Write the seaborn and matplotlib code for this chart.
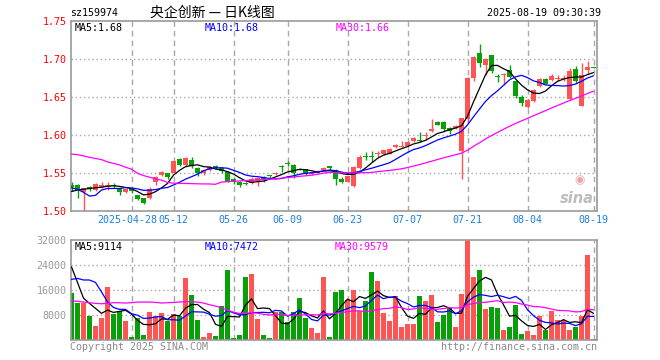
import numpy as np
import pandas as pd
import matplotlib
matplotlib.use("Agg")
import matplotlib.pyplot as plt
import matplotlib.transforms as mtrans
import seaborn as sns

# ---------------- data ----------------
holidays = ["2025-05-01", "2025-05-02", "2025-05-05", "2025-06-02"]
dates = pd.bdate_range("2025-04-14", "2025-08-19")
dates = dates[~dates.isin(pd.to_datetime(holidays))]

opens = [1.534, 1.535, 1.525, 1.532, 1.528, 1.532, 1.532, 1.535, 1.529, 1.525,
         1.529, 1.521, 1.517, 1.517, 1.538, 1.548, 1.550, 1.551, 1.569, 1.561,
         1.568, 1.557, 1.550, 1.554, 1.560, 1.557, 1.552, 1.542, 1.539, 1.537,
         1.537, 1.540, 1.545, 1.547, 1.549, 1.559, 1.563, 1.561, 1.556, 1.555,
         1.549, 1.551, 1.555, 1.559, 1.555, 1.543, 1.539, 1.533, 1.557, 1.573,
         1.572, 1.575, 1.575, 1.576, 1.584, 1.585, 1.586, 1.592, 1.594, 1.599,
         1.606, 1.618, 1.618, 1.609, 1.609, 1.580, 1.622, 1.676, 1.708, 1.693,
         1.705, 1.678, 1.679, 1.686, 1.671, 1.650, 1.637, 1.645, 1.665, 1.674,
         1.673, 1.674, 1.674, 1.648, 1.687, 1.639, 1.686, 1.690]
highs = [1.538, 1.536, 1.531, 1.533, 1.537, 1.539, 1.539, 1.537, 1.530, 1.530,
         1.530, 1.522, 1.518, 1.532, 1.547, 1.553, 1.551, 1.568, 1.570, 1.571,
         1.572, 1.558, 1.556, 1.560, 1.561, 1.558, 1.553, 1.544, 1.540, 1.538,
         1.545, 1.545, 1.546, 1.548, 1.552, 1.561, 1.566, 1.562, 1.557, 1.556,
         1.552, 1.555, 1.558, 1.560, 1.556, 1.545, 1.547, 1.559, 1.574, 1.578,
         1.579, 1.579, 1.581, 1.583, 1.589, 1.593, 1.592, 1.598, 1.605, 1.605,
         1.622, 1.619, 1.619, 1.611, 1.614, 1.623, 1.677, 1.705, 1.720, 1.702,
         1.706, 1.681, 1.682, 1.692, 1.672, 1.653, 1.648, 1.661, 1.675, 1.675,
         1.681, 1.679, 1.679, 1.688, 1.691, 1.695, 1.698, 1.690]
lows = [1.527, 1.518, 1.500, 1.527, 1.527, 1.531, 1.528, 1.531, 1.522, 1.524,
        1.524, 1.515, 1.510, 1.516, 1.535, 1.547, 1.543, 1.550, 1.559, 1.558,
        1.557, 1.546, 1.548, 1.553, 1.556, 1.551, 1.538, 1.536, 1.532, 1.535,
        1.536, 1.533, 1.539, 1.544, 1.548, 1.552, 1.559, 1.544, 1.554, 1.548,
        1.548, 1.550, 1.554, 1.555, 1.535, 1.537, 1.538, 1.532, 1.556, 1.567,
        1.565, 1.571, 1.574, 1.575, 1.583, 1.584, 1.585, 1.591, 1.591, 1.594,
        1.605, 1.613, 1.606, 1.602, 1.608, 1.542, 1.618, 1.672, 1.690, 1.680,
        1.682, 1.670, 1.666, 1.675, 1.649, 1.639, 1.636, 1.644, 1.664, 1.667,
        1.671, 1.671, 1.671, 1.646, 1.669, 1.638, 1.681, 1.689]
closes = [1.532, 1.528, 1.530, 1.529, 1.536, 1.535, 1.535, 1.533, 1.525, 1.529,
          1.527, 1.516, 1.511, 1.530, 1.545, 1.552, 1.545, 1.566, 1.561, 1.570,
          1.559, 1.550, 1.554, 1.558, 1.557, 1.553, 1.539, 1.538, 1.534, 1.536,
          1.543, 1.544, 1.542, 1.546, 1.551, 1.558, 1.562, 1.550, 1.555, 1.549,
          1.551, 1.553, 1.557, 1.557, 1.543, 1.539, 1.546, 1.558, 1.571, 1.571,
          1.571, 1.577, 1.580, 1.582, 1.587, 1.586, 1.591, 1.597, 1.592, 1.601,
          1.608, 1.614, 1.608, 1.606, 1.612, 1.623, 1.676, 1.703, 1.695, 1.701,
          1.684, 1.677, 1.681, 1.677, 1.652, 1.643, 1.646, 1.660, 1.674, 1.668,
          1.678, 1.675, 1.675, 1.684, 1.671, 1.679, 1.690, 1.689]
volumes = [15000, 11800, 12000, 7800, 4500, 7000, 17000, 8300, 9500, 6200,
           1000, 7000, 1700, 9000, 7800, 8800, 6300, 8500, 7800, 20000,
           14500, 6500, 1000, 2300, 1300, 11100, 22500, 700, 1700, 20300,
           21200, 6800, 1700, 700, 9200, 9000, 5800, 9000, 13500, 7000,
           3900, 2300, 20200, 1000, 15600, 16100, 12900, 16100, 9300, 12700,
           21700, 19000, 8800, 6200, 14200, 4300, 5200, 5200, 14200, 12700,
           14500, 5900, 8100, 10200, 4300, 14800, 33000, 20400, 22500, 10000,
           10700, 10400, 3200, 4300, 11300, 1900, 3000, 1600, 7700, 3200,
           9400, 6400, 6400, 3200, 4300, 7700, 27400, 400]

ma5_head = [1.526, 1.528, 1.529, 1.530]
ma10_head = [1.531, 1.529, 1.525, 1.520, 1.521, 1.528, 1.530, 1.530, 1.530]
ma30_head = [1.5754, 1.5745, 1.5730, 1.5710, 1.5695, 1.5680, 1.5650, 1.5630, 1.5610, 1.5580,
             1.5555, 1.5500, 1.5470, 1.5450, 1.5425, 1.5410, 1.5380, 1.5370, 1.5368, 1.5366,
             1.5364, 1.5362, 1.5360, 1.5360, 1.5355, 1.5385, 1.5390, 1.5395, 1.5400]
vma5_head = [23500, 18500, 13500, 11800]
vma10_head = [19500, 19800, 19300, 19300, 18500, 15500, 12300, 10500, 9900]
vma30_head = [12670, 12460, 12240, 12030, 11810, 11700, 11810, 12030, 12030, 11920,
              12030, 12240, 12240, 12240, 12130, 11920, 12030, 12130, 12240, 12350,
              12350, 12240, 11920, 11380, 10950, 10420, 9660, 9020, 8590]

tick_dates = ["2025-04-28", "2025-05-12", "2025-05-26", "2025-06-09", "2025-06-23",
              "2025-07-07", "2025-07-21", "2025-08-04", "2025-08-19"]
tick_labels = ["2025-04-28", "05-12", "05-26", "06-09", "06-23",
               "07-07", "07-21", "08-04", "08-19"]
price_ticks = [1.50, 1.55, 1.60, 1.65, 1.70, 1.75]
vol_ticks = [8000, 16000, 24000, 32000]

# ---------------- helpers ----------------
def moving(values, n, head):
    s = pd.Series(values, dtype=float).rolling(n).mean()
    s.iloc[:len(head)] = head
    return s.values

o = np.array(opens); h = np.array(highs); l = np.array(lows); c = np.array(closes)
v = np.array(volumes, dtype=float)
x = np.arange(len(dates))
ma5 = moving(c, 5, ma5_head); ma10 = moving(c, 10, ma10_head); ma30 = moving(c, 30, ma30_head)
vma5 = moving(v, 5, vma5_head); vma10 = moving(v, 10, vma10_head); vma30 = moving(v, 30, vma30_head)

RED = "#ff5454"
GREEN = "#08a008"
cols = np.where(c > o, RED, GREEN)
tick_idx = [int(np.where(dates == pd.Timestamp(d))[0][0]) for d in tick_dates]

sns.set_style("white")
plt.rcParams["font.family"] = ["DejaVu Sans Mono", "Noto Sans CJK SC"]
plt.rcParams["axes.linewidth"] = 1.2
FS = 7.2

W, H = 660, 360
fig = plt.figure(figsize=(6.6, 3.6), dpi=100)
axp = fig.add_axes([70.5 / W, 1 - 211.3 / H, 526.5 / W, 190 / H])
axv = fig.add_axes([70.5 / W, 1 - 340.3 / H, 526.5 / W, 100 / H])
for ax in (axp, axv):
    ax.set_xlim(-0.1667, 87.583)
    for s in ax.spines.values():
        s.set_color("#9a9a9a")
    for t in tick_idx:
        ax.axvline(t, color="#a8a8a8", lw=1, ls=(0, (4, 3)), zorder=0)

# price panel
for yv in [1.55, 1.60, 1.65, 1.70]:
    axp.axhline(yv, color="#a8a8a8", lw=1, ls=(0, (1, 2)), zorder=0)
axp.vlines(x, l, h, colors=cols, lw=1, zorder=2)
body = np.maximum(np.abs(c - o), 0.0012)
axp.bar(x, body, bottom=np.minimum(o, c), width=0.8, color=cols, lw=0, zorder=3)
sns.lineplot(x=x, y=ma5, ax=axp, color="black", lw=0.9, zorder=4)
sns.lineplot(x=x, y=ma10, ax=axp, color="#0000ff", lw=0.9, zorder=4)
sns.lineplot(x=x, y=ma30, ax=axp, color="#ff00ff", lw=0.9, zorder=4)
axp.set_ylim(1.50, 1.75)
axp.set_yticks(price_ticks)
axp.set_yticklabels([f"{t:.2f}" for t in price_ticks], color="red", fontsize=FS)
axp.set_xticks(tick_idx)
axp.set_xticklabels(tick_labels, color="#1e7fe0", fontsize=FS)
axp.tick_params(length=0, pad=3)
axp.set_ylabel(""); axp.set_xlabel("")
# the first (long) date label sits just left of its neighbour, as in the original
first = axp.get_xticklabels()[0]
first.set_transform(first.get_transform() +
                    mtrans.ScaledTranslation(-4 / 100, 0, fig.dpi_scale_trans))
# sina watermark
axp.text(0.994, 0.03, "sina", transform=axp.transAxes, ha="right", va="bottom",
         fontsize=10.5, fontweight="bold", style="italic", color="#bdbdbd",
         family="DejaVu Sans", zorder=1)
axp.text(0.966, 0.165, "◉", transform=axp.transAxes, ha="center", va="center",
         fontsize=8.5, color="#f2a2a2", family="DejaVu Sans", zorder=1)

# volume panel
for yv in [8000, 16000, 24000]:
    axv.axhline(yv, color="#a8a8a8", lw=1, ls=(0, (1, 2)), zorder=0)
axv.bar(x, v, width=0.8, color=cols, lw=0, zorder=2)
sns.lineplot(x=x, y=vma5, ax=axv, color="black", lw=0.9, zorder=4)
sns.lineplot(x=x, y=vma10, ax=axv, color="#0000ff", lw=0.9, zorder=4)
sns.lineplot(x=x, y=vma30, ax=axv, color="#ff00ff", lw=0.9, zorder=4)
axv.set_ylim(0, 32000)
axv.set_yticks(vol_ticks)
axv.set_yticklabels([str(t) for t in vol_ticks], color="#999999", fontsize=FS)
axv.set_xticks(tick_idx)
axv.set_xticklabels([])
axv.tick_params(length=0, pad=3)
axv.set_ylabel(""); axv.set_xlabel("")

# texts
def ftext(px, py, s, **kw):
    fig.text(px / W, 1 - py / H, s, va="center", **kw)

ftext(70, 13, "sz159974", ha="left", fontsize=FS, color="black")
ftext(150, 13, "央企创新 — 日K线图", ha="left", fontsize=10, color="black",
      family=["Noto Sans CJK SC", "DejaVu Sans"])
ftext(601, 13, "2025-08-19 09:30:39", ha="right", fontsize=FS, color="black")
ftext(75, 28, "MA5:1.68", ha="left", fontsize=FS, color="black")
ftext(205, 28, "MA10:1.68", ha="left", fontsize=FS, color="#0000ff")
ftext(336, 28, "MA30:1.66", ha="left", fontsize=FS, color="#ff00ff")
ftext(75, 247, "MA5:9114", ha="left", fontsize=FS, color="black")
ftext(205, 247, "MA10:7472", ha="left", fontsize=FS, color="#0000ff")
ftext(335, 247, "MA30:9579", ha="left", fontsize=FS, color="#ff00ff")
ftext(70, 347, "Copyright 2025 SINA.COM", ha="left", fontsize=FS, color="#8a8a8a")
ftext(597, 347, "http://finance.sina.com.cn", ha="right", fontsize=FS, color="#8a8a8a")

fig.savefig("out.png", dpi=100, facecolor="white")
